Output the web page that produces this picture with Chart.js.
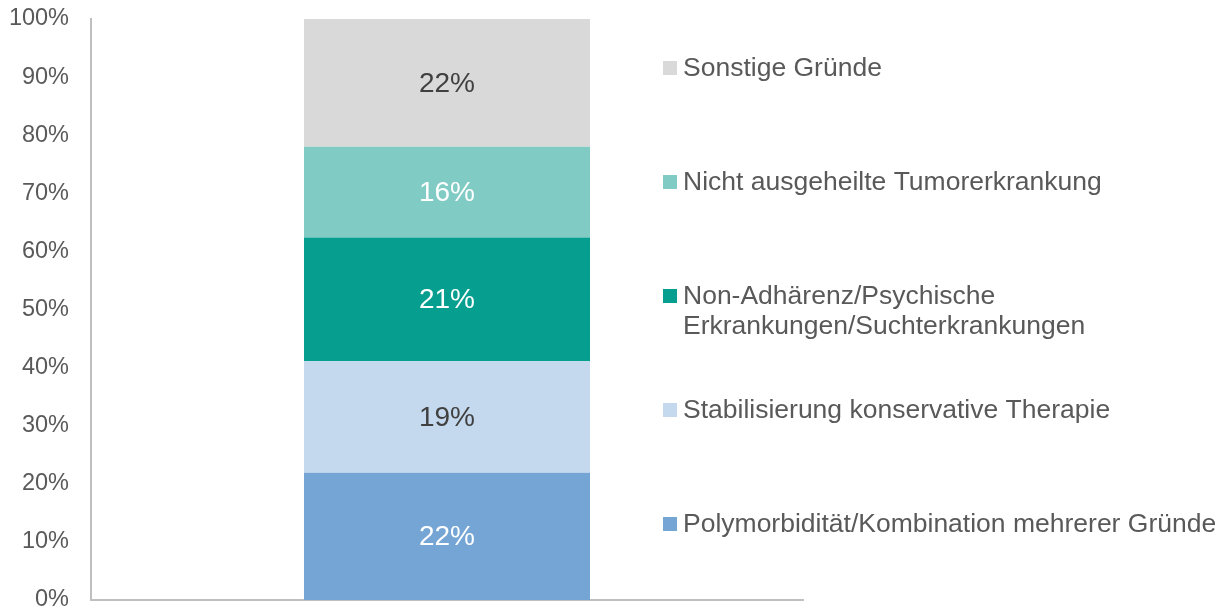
<!DOCTYPE html>
<html>
<head>
<meta charset="utf-8">
<script src="https://cdn.jsdelivr.net/npm/chart.js@4/dist/chart.umd.min.js"></script>
<style>
  html, body { margin: 0; padding: 0; background: #ffffff; }
  #wrap { width: 1227px; height: 612px; position: relative; }
</style>
</head>
<body>
<div id="wrap"><canvas id="c" width="1227" height="612"></canvas></div>
<script>
// Stacked shares of reasons (bottom to top), in percent
const categories = [''];
const seriesNames = [
  ['Polymorbidität/Kombination mehrerer Gründe'],
  ['Stabilisierung konservative Therapie'],
  ['Non-Adhärenz/Psychische', 'Erkrankungen/Suchterkrankungen'],
  ['Nicht ausgeheilte Tumorerkrankung'],
  ['Sonstige Gründe']
];
const polymorbiditaet = [21.9];
const stabilisierung = [19.2];
const nonAdhaerenz = [21.3];
const tumor = [15.6];
const sonstige = [22.0];
const seriesValues = [polymorbiditaet, stabilisierung, nonAdhaerenz, tumor, sonstige];
const seriesColors = ['#75A5D5', '#C5D9EE', '#059E8F', '#80CBC4', '#D9D9D9'];
const labelColors = ['#ffffff', '#404040', '#ffffff', '#ffffff', '#404040'];
const yTicks = [0, 10, 20, 30, 40, 50, 60, 70, 80, 90, 100];

const FONT = '"Liberation Sans", Arial, sans-serif';
const TEXT = '#595959';

// Percentage labels centred in each stacked segment
const segmentLabels = {
  id: 'segmentLabels',
  afterDatasetsDraw(chart) {
    const ctx = chart.ctx;
    ctx.save();
    ctx.font = '28px ' + FONT;
    ctx.textAlign = 'center';
    ctx.textBaseline = 'middle';
    chart.data.datasets.forEach((ds, i) => {
      const meta = chart.getDatasetMeta(i);
      meta.data.forEach((bar, j) => {
        const y = (bar.y + bar.base) / 2;
        ctx.fillStyle = labelColors[i];
        ctx.fillText(Math.round(ds.data[j]) + '%', bar.x, y + 1);
      });
    });
    ctx.restore();
  }
};

// Legend on the right, top item = top segment
const sideLegend = {
  id: 'sideLegend',
  afterDraw(chart) {
    const ctx = chart.ctx;
    const boxX = 663, box = 14, textX = 683, firstY = 68, step = 114, lineH = 30;
    ctx.save();
    ctx.font = '26.5px ' + FONT;
    ctx.textBaseline = 'middle';
    ctx.textAlign = 'left';
    const n = chart.data.datasets.length;
    for (let k = 0; k < n; k++) {
      const i = n - 1 - k;
      const ds = chart.data.datasets[i];
      const cy = firstY + k * step;
      ctx.fillStyle = ds.backgroundColor;
      ctx.fillRect(boxX, cy - box / 2, box, box);
      ctx.fillStyle = TEXT;
      seriesNames[i].forEach((line, li) => {
        ctx.fillText(line, textX, cy + 1 + li * lineH);
      });
    }
    ctx.restore();
  }
};

new Chart(document.getElementById('c'), {
  type: 'bar',
  data: {
    labels: categories,
    datasets: seriesValues.map((vals, i) => ({
      label: seriesNames[i].join(' '),
      data: vals,
      backgroundColor: seriesColors[i],
      borderWidth: 0,
      barPercentage: 1,
      categoryPercentage: 0.4017
    }))
  },
  options: {
    responsive: false,
    animation: false,
    devicePixelRatio: 1,
    layout: { padding: { left: 0, right: 424, top: 19, bottom: 0 } },
    plugins: {
      legend: { display: false },
      tooltip: { enabled: false }
    },
    scales: {
      x: {
        stacked: true,
        grid: { display: false, drawTicks: false },
        border: { display: true, color: '#BFBFBF', width: 2 },
        ticks: { display: false },
        afterFit(s) { s.height = 12; }
      },
      y: {
        stacked: true,
        min: 0,
        max: 100,
        grid: { display: false, drawTicks: false },
        border: { display: true, color: '#BFBFBF', width: 2 },
        afterBuildTicks(s) { s.ticks = yTicks.map(v => ({ value: v })); },
        afterFit(s) {
          s.width = 91;
          s.paddingTop = 0;
          s.paddingBottom = 0;
        },
        ticks: {
          padding: 22,
          color: TEXT,
          font: { family: FONT, size: 23.5 },
          callback: v => v + '%'
        }
      }
    }
  },
  plugins: [segmentLabels, sideLegend]
});
</script>
</body>
</html>
